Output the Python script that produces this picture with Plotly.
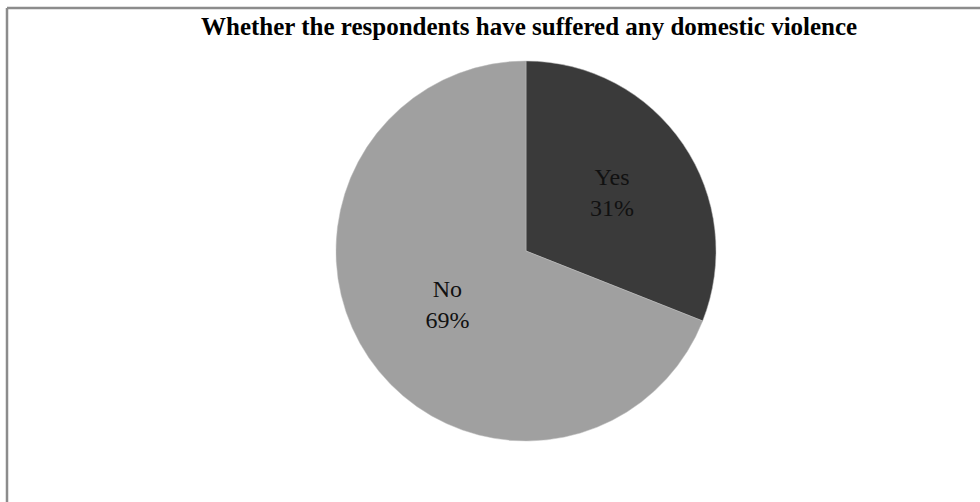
import plotly.graph_objects as go

labels = ["Yes", "No"]
values = [31, 69]
colors = ["#3a3a3a", "#a0a0a0"]
title_text = "Whether the respondents have suffered any domestic violence"

W, H = 980, 502
cx, cy, r = 526, 251, 190

fig = go.Figure(go.Pie(
    labels=labels,
    values=values,
    sort=False,
    direction="clockwise",
    rotation=0,
    marker=dict(colors=colors, line=dict(color="#bdbdbd", width=0.5)),
    texttemplate="%{label}<br>%{percent:.0%}",
    textposition="inside",
    insidetextorientation="horizontal",
    textfont=dict(family="Liberation Serif, Times New Roman, serif", size=24, color="#111111"),
    showlegend=False,
    hoverinfo="label+percent",
    domain=dict(x=[(cx - r) / W, (cx + r) / W], y=[1 - (cy + r) / H, 1 - (cy - r) / H]),
))

fig.update_layout(
    width=W, height=H,
    margin=dict(l=0, r=0, t=0, b=0),
    paper_bgcolor="white",
    plot_bgcolor="white",
    annotations=[dict(
        text="<b>" + title_text + "</b>",
        x=529 / W, y=1 - 27 / H, xref="paper", yref="paper",
        xanchor="center", yanchor="middle", showarrow=False,
        font=dict(family="Liberation Serif, Times New Roman, serif", size=25, color="#000000"),
    )],
    shapes=[
        dict(type="line", xref="paper", yref="paper", x0=7 / W, x1=1, y0=1 - 8 / H, y1=1 - 8 / H,
             line=dict(color="#8c8c8c", width=2.5)),
        dict(type="line", xref="paper", yref="paper", x0=7 / W, x1=7 / W, y0=0, y1=1 - 8 / H,
             line=dict(color="#8c8c8c", width=2.5)),
    ],
)

fig.write_html("out.html")
